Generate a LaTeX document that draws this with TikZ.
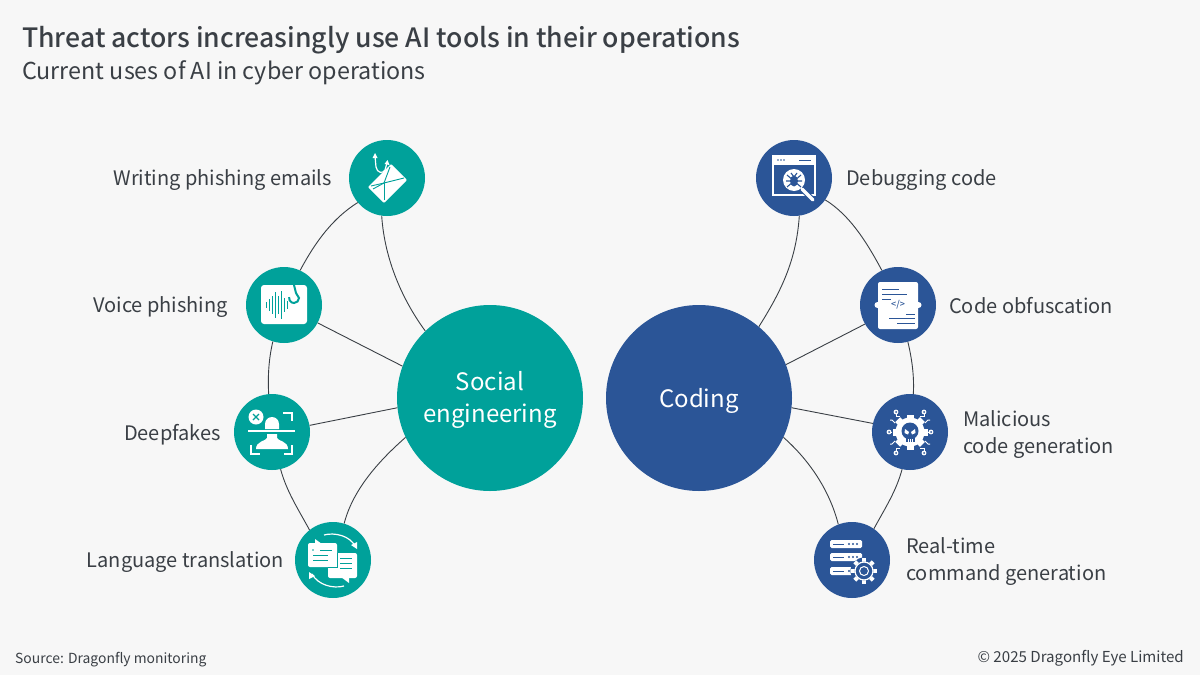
\documentclass[tikz,border=0pt]{standalone}
\usepackage{fontspec}
\setmainfont{Noto Sans CJK SC}[BoldFont={Noto Sans CJK SC Medium}]
\definecolor{paper}{HTML}{F7F7F7}
\definecolor{teal1}{HTML}{00A19A}
\definecolor{blue1}{HTML}{2B5597}
\definecolor{ink}{HTML}{3A3F45}
\tikzset{
  hub/.style={circle,minimum size=186pt,inner sep=0pt},
  hubtext/.style={text=white,inner sep=0pt,align=center,font=\fontsize{24}{32}\selectfont},
  spot/.style={circle,minimum size=76pt,inner sep=0pt},
  link/.style={draw=ink,line width=.9pt},
  label/.style={text=ink,inner sep=0pt,align=left,font=\fontsize{20}{27}\selectfont},
  wl/.style={draw=white,line width=1.2pt},
}
\begin{document}
\begin{tikzpicture}[x=1pt,y=-1pt]
  \useasboundingbox (0,0) rectangle (1200,675);
  \fill[paper] (0,0) rectangle (1200,675);

  \node[text=ink,anchor=base west,inner sep=0pt,font=\bfseries\fontsize{26.6}{32}\selectfont] (title) at (22,47) {Threat actors increasingly use AI tools in their operations};
  \node[text=ink,anchor=base west,inner sep=0pt,font=\fontsize{23.3}{30}\selectfont] (subtitle) at (22,79) {Current uses of AI in cyber operations};

  \node[hub,fill=teal1] (social) at (490,398) {};
  \node[hub,fill=blue1] (coding) at (699,398) {};
  \node[hubtext] (socialtext) at (490,400) {Social\\engineering};
  \node[hubtext] (codingtext) at (699,401) {Coding};

  \node[spot,fill=teal1] (mail) at (387,178) {};
  \node[spot,fill=teal1] (voice) at (284,305) {};
  \node[spot,fill=teal1] (deep) at (272,432) {};
  \node[spot,fill=teal1] (lang) at (333,560) {};
  \node[spot,fill=blue1] (debug) at (794,178) {};
  \node[spot,fill=blue1] (obf) at (898,305) {};
  \node[spot,fill=blue1] (mal) at (910,432) {};
  \node[spot,fill=blue1] (real) at (852,560) {};

  % left side
  \draw[link] (mail.262) .. controls +(3,45) and +(-22,-30) .. (social.134);
  \draw[link] (mail.220) .. controls +(-24,15) and +(16,-30) .. (voice.65);
  \draw[link] (voice.253) .. controls +(-4,17) and +(-1,-18) .. (deep.95);
  \draw[link] (voice.332) -- (social.160);
  \draw[link] (deep.10) -- (social.186);
  \draw[link] (deep.283) .. controls +(6,22) and +(-12,-22) .. (lang.128);
  \draw[link] (lang.73) .. controls +(9,-35) and +(-25,22) .. (social.205);
  % right side
  \draw[link] (debug.278) .. controls +(-3,45) and +(22,-35) .. (coding.50);
  \draw[link] (debug.325) .. controls +(24,15) and +(-16,-30) .. (obf.115);
  \draw[link] (obf.210) -- (coding.21);
  \draw[link] (obf.285) .. controls +(4,17) and +(1,-18) .. (mal.85);
  \draw[link] (mal.167) -- (coding.354);
  \draw[link] (mal.258) .. controls +(-6,22) and +(12,-22) .. (real.55);
  \draw[link] (real.111) .. controls +(-9,-35) and +(25,22) .. (coding.335);

  \node[label,anchor=east] (mailtext) at (332,180.5) {Writing phishing emails};
  \node[label,anchor=east] (voicetext) at (228,307.5) {Voice phishing};
  \node[label,anchor=east] (deeptext) at (221,434.5) {Deepfakes};
  \node[label,anchor=east] (langtext) at (284,562.5) {Language translation};
  \node[label,anchor=west] (debugtext) at (846,180.5) {Debugging code};
  \node[label,anchor=west] (obftext) at (949,305.5) {Code obfuscation};
  \node[label,anchor=west] (maltext) at (963,434.5) {Malicious\\code generation};
  \node[label,anchor=west] (realtext) at (906,561.5) {Real-time\\command generation};

  \node[text=ink,anchor=base west,inner sep=0pt,font=\fontsize{13.9}{18}\selectfont] (source) at (15,663.5) {Source: Dragonfly monitoring};
  \node[text=ink,anchor=base east,inner sep=0pt,font=\fontsize{15.1}{18}\selectfont] (copy) at (1184,662) {© 2025 Dragonfly Eye Limited};

  % envelope and hook
  \begin{scope}[shift={(387,178)}]
    \fill[white,rounded corners=1pt] (-19,9) -- (4,-14) -- (20,2) -- (-3,25) -- cycle;
    \draw[teal1,line width=.9pt] (-16,8) -- (-3,5) -- (17,0);
    \draw[teal1,line width=.9pt] (-3,5) -- (3,-11);
    \draw[teal1,line width=.9pt] (-14,11) -- (-3,5);
    \draw[teal1,line width=.9pt] (-3,22) -- (-3,5);
    \draw[wl] (-12,-22) -- (-11,-11) .. controls (-10,-5) and (-4,-4) .. (-2,-8) -- (0,-15);
    \fill[white] (-14.5,-20) -- (-12,-25) -- (-9.5,-20) -- cycle;
    \fill[white] (-2.5,-14) -- (.5,-18) -- (2.5,-13) -- cycle;
  \end{scope}

  % sound box and hook
  \begin{scope}[shift={(284,305)}]
    \fill[white,rounded corners=3pt] (-23,-20) rectangle (23,19);
    \foreach \xa/\ya in {-18/3,-15/6,-12/9,-9/13,-6/9,-3/14,0/7,3/4}
      \draw[teal1,line width=.9pt] (\xa,-\ya) -- (\xa,\ya);
    \draw[teal1,line width=2pt] (10,-20) -- (12,-12) -- (15,-7) arc (0:190:5);
  \end{scope}

  % face scan
  \begin{scope}[shift={(272,432)}]
    \fill[white] (-7,-3) -- (-7,-8) arc (180:360:7) -- (7,-3) -- cycle;
    \draw[wl] (-24,-1) -- (23,-1);
    \fill[white] (-16,17) .. controls (-16,9) and (-6,9) .. (-5,6) -- (-5,2) -- (5,2) -- (5,6) .. controls (6,9) and (16,9) .. (16,17) -- cycle;
    \draw[wl] (11,-19) -- (20,-19) -- (20,-11);
    \draw[wl] (-21,13) -- (-21,22) -- (-12,22);
    \draw[wl] (20,13) -- (20,22) -- (12,22);
    \fill[white] (-16,-15) circle (7.5);
    \draw[teal1,line width=1.2pt] (-19,-18) -- (-13,-12) (-19,-12) -- (-13,-18);
  \end{scope}

  % speech bubbles
  \begin{scope}[shift={(333,560)}]
    \fill[white,rounded corners=2pt] (-25,-17) rectangle (4,7);
    \fill[white] (-18,-16) -- (-18,-21) -- (-11,-16) -- cycle;
    \draw[teal1,line width=.9pt] (-13,-10) -- (-1,-10) (-20,-5) -- (-1,-5) (-20,0) -- (-1,0);
    \fill[teal1] (-20,-10) circle (.8);
    \fill[white,rounded corners=2pt] (-5,-7) rectangle (24,18);
    \draw[teal1,line width=1pt] (4,-7.5) -- (4,7) -- (-5.5,7);
    \fill[white] (8,17) -- (16,17) -- (16,23) -- cycle;
    \draw[teal1,line width=.9pt] (7,-2) -- (19,-2) (7,3) -- (19,3) (7,8) -- (19,8);
    \draw[wl] (-9,-25) .. controls (2,-28) and (17,-24) .. (22,-14);
    \fill[white] (18,-15) -- (24,-11) -- (24,-18) -- cycle;
    \draw[wl] (11,26) .. controls (0,29) and (-15,25) .. (-21,14);
    \fill[white] (-18,16) -- (-24,12) -- (-24,19) -- cycle;
  \end{scope}

  % browser window and bug
  \begin{scope}[shift={(794,178)}]
    \draw[wl] (-21,-22) rectangle (21,17);
    \fill[white] (-21,-22) rectangle (21,-13);
    \fill[blue1] (-16,-18) circle (.8) (-13,-18) circle (.8) (-10,-18) circle (.8);
    \draw[blue1,line width=1pt] (5,-18) -- (17,-18);
    \draw[blue1,line width=5.5pt] (8,11) -- (20,23);
    \draw[white,line width=3.5pt,line cap=round] (8,11) -- (19,22);
    \fill[white] (0,2) circle (11);
    \fill[blue1] (0,3) ellipse (4 and 5.5);
    \draw[blue1,line width=1.1pt] (-7,-3) -- (7,9) (7,-3) -- (-7,9) (-8,3) -- (8,3) (-3,-5) -- (0,-1) -- (3,-5);
  \end{scope}

  % code sheet
  \begin{scope}[shift={(898,305)}]
    \fill[white,rounded corners=2pt] (-20,-23) rectangle (20,24);
    \fill[white] (-20.5,0) circle (3) (20.5,0) circle (3);
    \draw[blue1,line width=1pt] (-16,-16) -- (1,-16) (-16,-11) -- (9,-11) (-16,-6) -- (-7,-6);
    \draw[blue1,line width=1pt] (8,9) -- (17,9) (-9,13) -- (17,13) (-1,18) -- (17,18);
    \node[blue1,inner sep=0pt,font=\bfseries\fontsize{9}{9}\selectfont] (codetag) at (0,0) {</>};
  \end{scope}

  % gear, skull and circuit
  \begin{scope}[shift={(910,432)}]
    \foreach \ang in {0,45,...,315}
      \fill[white,rotate=\ang] (-3.5,-17.5) rectangle (3.5,-10);
    \fill[white] (0,0) circle (14.5);
    \fill[blue1] (0,-1) circle (8.5);
    \fill[blue1] (-4.5,4) rectangle (4.5,10);
    \fill[white] (-5,-3) -- (-1,0) -- (-2,2.5) -- (-5.5,1) -- cycle;
    \fill[white] (5,-3) -- (1,0) -- (2,2.5) -- (5.5,1) -- cycle;
    \draw[white,line width=.8pt] (-2,7) -- (-2,10) (0,7) -- (0,10) (2,7) -- (2,10);
    \foreach \sx in {-1,1} {
      \draw[white,line width=1pt] (\sx*10,-16) -- (\sx*14,-16) -- (\sx*14,-18);
      \draw[white,line width=1pt] (\sx*15,-9) -- (\sx*18,-12) -- (\sx*20,-12);
      \draw[white,line width=1pt] (\sx*18,0) -- (\sx*19,0);
      \draw[white,line width=1pt] (\sx*15,9) -- (\sx*18,12) -- (\sx*20,12);
      \draw[white,line width=1pt] (\sx*10,16) -- (\sx*14,16) -- (\sx*14,19);
      \fill[white] (\sx*14,-20) circle (2.4);
      \fill[blue1] (\sx*14,-20) circle (1);
      \fill[white] (\sx*21,0) circle (2.4);
      \fill[blue1] (\sx*21,0) circle (1);
      \fill[white] (\sx*14,21) circle (2.4);
      \fill[blue1] (\sx*14,21) circle (1);
    }
  \end{scope}

  % server rack and gear
  \begin{scope}[shift={(852,560)}]
    \foreach \ya/\xb in {-20/10,-7/10,7/4} {
      \fill[white,rounded corners=1.5pt] (-22,\ya) rectangle (\xb,\ya+8);
      \draw[blue1,line width=.8pt] (-19,\ya+4) -- (-8,\ya+4);
      \fill[blue1] (-3,\ya+4) circle (1.2) (1,\ya+4) circle (1.2);
    }
    \fill[blue1] (5,-16) circle (1.2) (5,-3) circle (1.2);
    \fill[blue1] (12,11) circle (13.5);
    \foreach \ang in {0,45,...,315}
      \fill[white,rotate around={\ang:(12,11)}] (10,-2) rectangle (14,3);
    \fill[blue1] (12,11) circle (9.5);
    \draw[white,line width=1.2pt] (12,11) circle (9);
    \draw[white,line width=1pt] (12,11) circle (4.5);
  \end{scope}
\end{tikzpicture}
\end{document}
